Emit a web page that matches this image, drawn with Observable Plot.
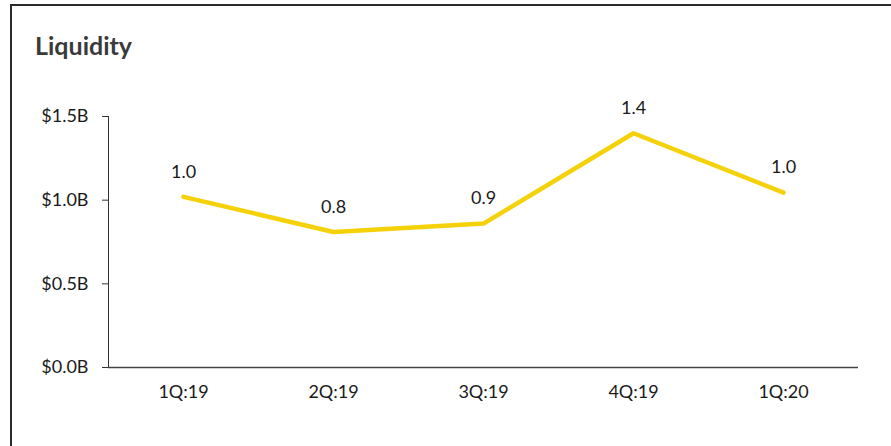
<!DOCTYPE html>
<html>
<head>
<meta charset="utf-8">
<script src="https://cdn.jsdelivr.net/npm/d3@7"></script>
<script src="https://cdn.jsdelivr.net/npm/@observablehq/plot@0.6"></script>
<style>
  html, body { margin: 0; padding: 0; background: #fff; }
  #wrap { position: relative; width: 891px; height: 446px; overflow: hidden; font-family: Lato, "Open Sans", sans-serif; }
  #border { position: absolute; left: 10px; top: 4px; width: 920px; height: 480px; border-left: 2px solid #2b2b2b; border-top: 2px solid #2b2b2b; }
  #title { position: absolute; left: 35px; top: 30px; font-size: 25px; font-weight: bold; color: #3a3a3a; }
  #chart { position: absolute; left: 0; top: 0; }
</style>
</head>
<body>
<div id="wrap">
  <div id="border"></div>
  <div id="title">Liquidity</div>
  <div id="chart"></div>
</div>
<script>
const quarters = ["1Q:19", "2Q:19", "3Q:19", "4Q:19", "1Q:20"];
const liquidity = [1.02, 0.81, 0.86, 1.40, 1.045];
const valueLabels = ["1.0", "0.8", "0.9", "1.4", "1.0"];
const yTicks = [0, 0.5, 1.0, 1.5];

const data = quarters.map((q, i) => ({q, v: liquidity[i], label: valueLabels[i]}));

const plot = Plot.plot({
  width: 891,
  height: 446,
  marginLeft: 108,
  marginRight: 33,
  marginTop: 116,
  marginBottom: 79,
  style: {fontFamily: "Lato, 'Open Sans', sans-serif", fontSize: "18px", color: "#1a1a1a", background: "transparent"},
  x: {type: "point", domain: quarters, padding: 0.5, label: null},
  y: {domain: [0, 1.5], label: null},
  marks: [
    Plot.frame({anchor: "left", stroke: "#333"}),
    Plot.ruleY([0], {stroke: "#444", strokeWidth: 1.5}),
    Plot.axisY({ticks: yTicks, tickFormat: d => "$" + d3.format(".1f")(d) + "B", tickSize: 6, tickPadding: 14, label: null, stroke: "#333"}),
    Plot.axisX({tickSize: 0, tickPadding: 18, label: null}),
    Plot.line(data, {x: "q", y: "v", stroke: "#F5D10A", strokeWidth: 4.5, strokeLinejoin: "miter"}),
    Plot.text(data, {x: "q", y: "v", text: "label", dy: -25, fill: "#1a1a1a"})
  ]
});
document.getElementById("chart").appendChild(plot);
</script>
</body>
</html>
